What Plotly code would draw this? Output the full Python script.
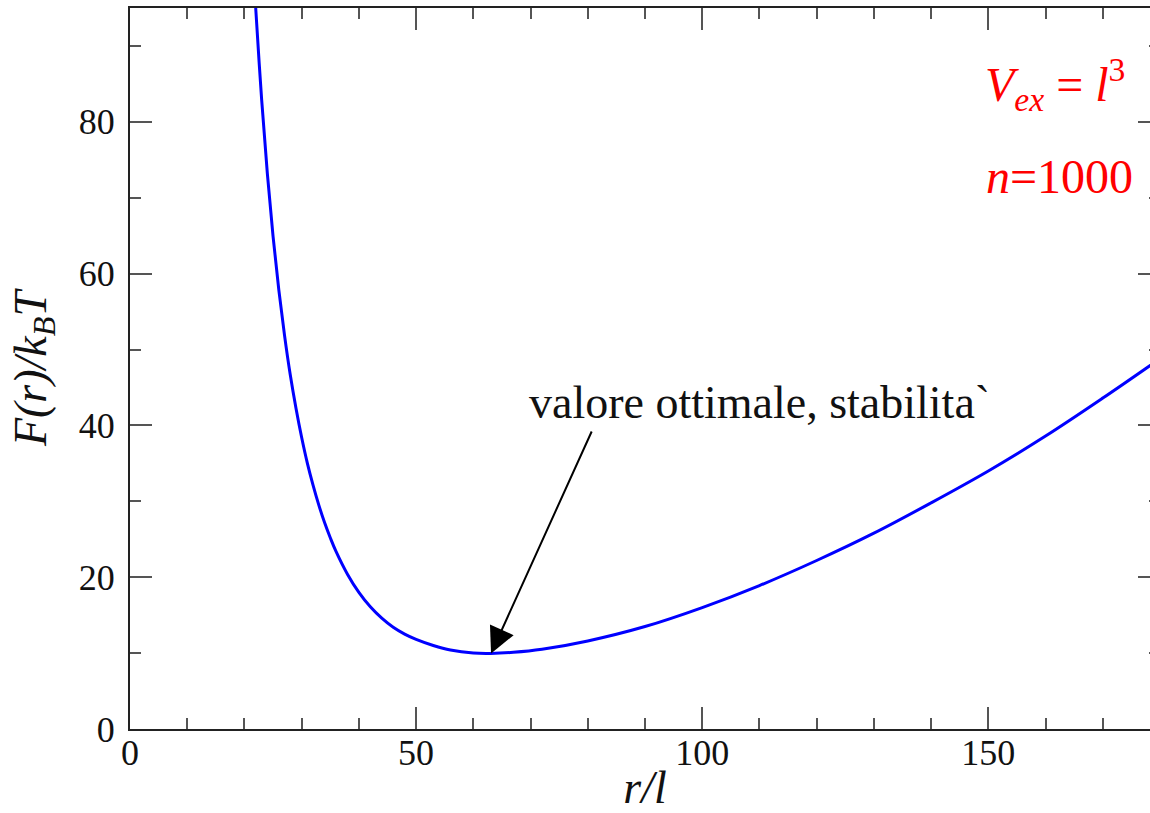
import plotly.graph_objects as go

# Flory free energy of a polymer chain, n = 1000 monomers, V_ex = l^3
r_over_l = [21.5, 22, 23, 24, 25, 26, 27, 28, 29, 30, 31, 32, 33, 34, 35, 36,
            38, 40, 42, 44, 46, 48, 50, 53, 56, 60, 63, 67, 72, 80, 90, 100,
            110, 120, 130, 140, 150, 160, 170, 180]
free_energy = [101.3, 94.6, 83.0, 73.2, 64.9, 57.9, 51.9, 46.7, 42.3, 38.4,
               35.0, 32.1, 29.5, 27.2, 25.2, 23.4, 20.4, 18.0, 16.1, 14.6,
               13.4, 12.5, 11.8, 11.0, 10.4, 10.0, 9.95, 10.1, 10.5, 11.6,
               13.5, 16.0, 18.9, 22.2, 25.8, 29.8, 34.0, 38.6, 43.6, 48.8]

x_ticks = [0, 50, 100, 150]
y_ticks = [0, 20, 40, 60, 80]

# position of the minimum and where the label sits
r_min, f_min = 63.1, 9.95
arrow_tail = (80.8, 39.4)
label_pos = (110, 43.0)

SERIF = "'Liberation Serif', 'Times New Roman', Times, serif"

fig = go.Figure()
fig.add_trace(go.Scatter(
    x=r_over_l, y=free_energy, mode="lines",
    line=dict(color="#0000ff", width=3, shape="spline", smoothing=1.0),
    showlegend=False, hoverinfo="skip",
))

axis_common = dict(
    showgrid=False, zeroline=False, showline=True, linecolor="#222222",
    linewidth=2, mirror="allticks", ticks="inside", ticklen=22, tickwidth=2,
    tickcolor="#555555", tickfont=dict(family=SERIF, size=36, color="#111111"),
)

fig.update_xaxes(
    range=[0, 180], tickmode="array", tickvals=x_ticks,
    ticklabelstandoff=-9,
    minor=dict(dtick=10, ticks="inside", ticklen=11, tickwidth=2,
               tickcolor="#555555"),
    title=dict(text="<i>r/l</i>", font=dict(family=SERIF, size=46, color="#111111"),
               standoff=14),
    **axis_common,
)
fig.update_yaxes(
    range=[0, 95], tickmode="array", tickvals=y_ticks,
    ticklabelstandoff=6,
    minor=dict(dtick=10, ticks="inside", ticklen=11, tickwidth=2,
               tickcolor="#555555"),
    title=dict(text="<i>F(r)/k<sub>B</sub>T</i>",
               font=dict(family=SERIF, size=46, color="#111111"), standoff=18),
    **axis_common,
)

fig.add_annotation(
    x=r_min, y=f_min, ax=arrow_tail[0], ay=arrow_tail[1],
    xref="x", yref="y", axref="x", ayref="y", text="",
    showarrow=True, arrowhead=2, arrowsize=2.6, arrowwidth=2,
    arrowcolor="#000000",
)
fig.add_annotation(
    x=label_pos[0], y=label_pos[1], xref="x", yref="y",
    text="valore ottimale, stabilita`", showarrow=False,
    font=dict(family=SERIF, size=46, color="#111111"),
)
fig.add_annotation(
    x=0.968, y=0.943, xref="paper", yref="paper", xanchor="right",
    text="<i>V</i><sub><i>ex</i></sub> = <i>l</i><sup>3</sup>", showarrow=False,
    font=dict(family=SERIF, size=48, color="#ff0000"),
)
fig.add_annotation(
    x=0.976, y=0.806, xref="paper", yref="paper", xanchor="right",
    text="<i>n</i>=1000", showarrow=False,
    font=dict(family=SERIF, size=48, color="#ff0000"),
)

fig.update_layout(
    width=1162, height=813,
    margin=dict(l=130, r=2, t=8, b=84, autoexpand=False),
    plot_bgcolor="white", paper_bgcolor="white",
)

fig.write_html("out.html", post_script="document.body.style.overflow='hidden';")
